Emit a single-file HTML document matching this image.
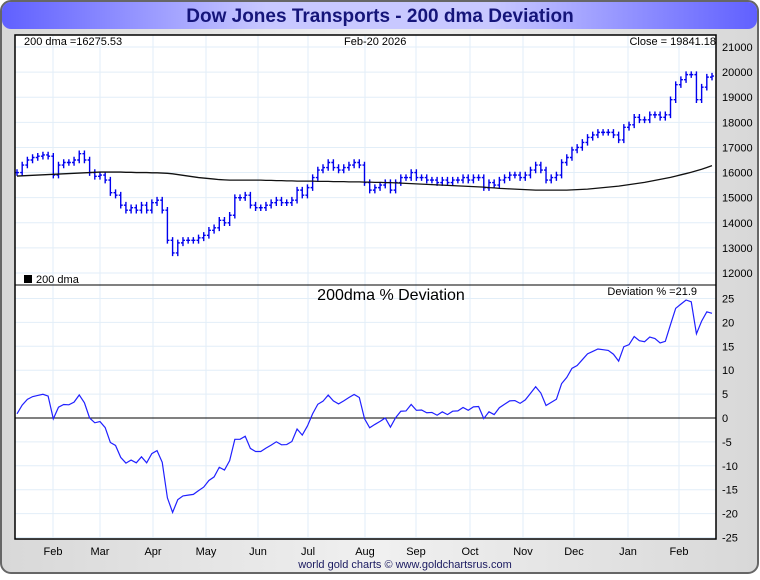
<!DOCTYPE html>
<html><head><meta charset="utf-8"><style>
body{margin:0;width:760px;height:575px;overflow:hidden;background:#fff;font-family:"Liberation Sans",sans-serif}
</style></head><body>
<svg id="chart" width="760" height="575" xmlns="http://www.w3.org/2000/svg" font-family="Liberation Sans, sans-serif">
<defs>
<linearGradient id="tg" x1="0" x2="1" y1="0" y2="0">
<stop offset="0" stop-color="#6060ff"/><stop offset="0.35" stop-color="#c8c8ff"/><stop offset="0.65" stop-color="#c8c8ff"/><stop offset="1" stop-color="#6060ff"/></linearGradient>
<linearGradient id="bg" x1="0" x2="1" y1="0" y2="0"><stop offset="0" stop-color="#d8d8d8"/><stop offset="0.5" stop-color="#f0f0f0"/><stop offset="1" stop-color="#d8d8d8"/></linearGradient>
</defs>
<rect x="1" y="1" width="757" height="572" rx="10" fill="url(#bg)" stroke="#666" stroke-width="2"/>
<rect x="2" y="2" width="755" height="27" rx="9" fill="url(#tg)"/>
<text x="380" y="22" text-anchor="middle" font-size="19" font-weight="bold" fill="#15157a">Dow Jones Transports - 200 dma Deviation</text>
<rect x="15" y="35" width="701" height="504" fill="#fff"/>
<g id="grid"></g>
<g id="marks"></g>
<rect x="15" y="35" width="701" height="504" fill="none" stroke="#000" stroke-width="1.5"/>
<line x1="15" x2="716" y1="285" y2="285" stroke="#000" stroke-width="1"/>
<text x="24" y="45" font-size="11">200 dma =16275.53</text>
<text x="344" y="45" font-size="11">Feb-20  2026</text>
<text x="716" y="45" font-size="11" text-anchor="end">Close = 19841.18</text>
<rect x="24" y="275" width="8" height="8" fill="#000"/>
<text x="36" y="283" font-size="11">200 dma</text>
<text x="391" y="300" font-size="16" text-anchor="middle">200dma  %  Deviation</text>
<text x="697" y="295" font-size="11" text-anchor="end">Deviation % =21.9</text>
<text x="405" y="568" font-size="11" text-anchor="middle" fill="#1a1a60">world gold charts © www.goldchartsrus.com</text>
</svg>
<script>
const closes=[16000,16300,16500,16600,16650,16700,16650,
15900,16300,16400,16400,16500,16750,16500,16000,15850,15900,15700,
15200,15100,14700,14500,14600,14500,14700,14500,14800,14900,
14500,13300,12800,13200,13300,13300,13300,13400,13500,13700,
13800,14100,14000,14300,15000,15000,15100,14700,14600,14600,
14700,14800,14900,14800,14800,14900,15300,15100,15400,15800,
16100,16200,16400,16200,16100,16200,16300,16400,16300,15600,
15300,15400,15500,15600,15300,15600,15800,15800,16000,15800,
15800,15700,15700,15600,15700,15600,15700,15700,15800,15700,
15800,15800,15400,15600,15500,15700,15800,15900,15900,15800,
15900,16100,16300,16100,15700,15800,15900,16400,16600,16900,
17000,17200,17400,17500,17600,17600,17600,17500,17300,17800,
17900,18200,18100,18100,18300,18300,18200,18300,18900,19500,
19700,19900,19900,18900,19400,19800,19841];
const dma=[15860,15870,15880,15890,15900,15910,15920,
15930,15940,15950,15960,15970,15980,15990,16000,16010,16020,16020,
16020,16020,16020,16010,16010,16000,16000,16000,15990,15990,
15980,15970,15950,15920,15890,15860,15830,15800,15780,15760,
15740,15720,15710,15700,15700,15700,15700,15700,15700,15700,
15690,15690,15680,15680,15670,15670,15660,15660,15660,15660,
15650,15650,15650,15640,15640,15640,15630,15630,15630,15620,
15620,15610,15610,15600,15600,15590,15580,15570,15560,15550,
15540,15530,15520,15510,15500,15490,15480,15470,15460,15450,
15440,15430,15420,15400,15390,15370,15360,15350,15340,15330,
15320,15310,15300,15300,15300,15300,15300,15300,15300,15310,
15320,15330,15340,15360,15380,15400,15420,15440,15460,15490,
15520,15550,15580,15610,15650,15690,15730,15770,15810,15860,
15910,15960,16010,16070,16130,16200,16275];
const priceTicks=[12000,13000,14000,15000,16000,17000,18000,19000,20000,21000];
const devTicks=[-25,-20,-15,-10,-5,0,5,10,15,20,25];
const months=["Feb","Mar","Apr","May","Jun","Jul","Aug","Sep","Oct","Nov","Dec","Jan","Feb"];
const NS="http://www.w3.org/2000/svg";
const X0=17,X1=712,N=closes.length;
const xOf=i=>X0+i*(X1-X0)/(N-1);
const yP=v=>47+(21000-v)*(226/9000);
const yD=v=>418-v*(239/50);
const grid=document.getElementById('grid'),marks=document.getElementById('marks'),svg=document.getElementById('chart');
function mk(tag,attrs,parent){const e=document.createElementNS(NS,tag);for(const k in attrs)e.setAttribute(k,attrs[k]);parent.appendChild(e);return e;}
priceTicks.forEach(t=>{
  const l=mk('line',{x1:15,x2:716,y1:yP(t),y2:yP(t),stroke:'#e2eef8'},grid);
  
  
  const tx=mk('text',{x:722,y:yP(t)+4,'font-size':11},svg);tx.textContent=t;
  
  
});
devTicks.forEach(t=>{
  const l=mk('line',{x1:15,x2:716,y1:yD(t),y2:yD(t),stroke:t===0?'#000':'#e2eef8'},t===0?marks:grid);
  
  
  const tx=mk('text',{x:722,y:yD(t)+4,'font-size':11},svg);tx.textContent=t;
  
  
});
const monthX=[53,100,153,206,258,308,365,416,470,523,574,628,679];
months.forEach((m,i)=>{
  const x=monthX[i];
  const l=mk('line',{x1:x,x2:x,y1:35,y2:539,stroke:'#e2eef8'},grid);
  
  
  const tx=mk('text',{x:x,y:555,'font-size':11,'text-anchor':'middle'},svg);tx.textContent=m;
  
  
});
for(let i=0;i<N;i++){
  const c=closes[i],o=i>0?closes[i-1]:c;
  const hi=Math.max(o,c)+130,lo=Math.min(o,c)-130,x=xOf(i);
  const g=mk('path',{d:`M${x},${yP(hi)}V${yP(lo)}M${x-2},${yP(o)}H${x}M${x},${yP(c)}H${x+2}`,stroke:'#0000ee','stroke-width':1.4,fill:'none'},marks);
  
  
}
const dmaPath=mk('polyline',{points:dma.map((v,i)=>xOf(i)+','+yP(v)).join(' '),fill:'none',stroke:'#111','stroke-width':1.3},marks);


const devPath=mk('polyline',{points:closes.map((c,i)=>xOf(i)+','+yD((c/dma[i]-1)*100)).join(' '),fill:'none',stroke:'#2020ff','stroke-width':1.2},marks);


</script>
</body></html>
